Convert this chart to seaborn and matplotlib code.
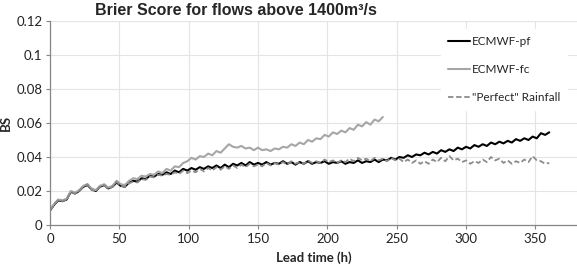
import numpy as np
import pandas as pd
import matplotlib
matplotlib.use("Agg")
import matplotlib.pyplot as plt
import seaborn as sns

# Brier score values, every 3 h of lead time
pf_bs = [
    .0085, .0120, .0145, .0140, .0150, .0195, .0185, .0200, .0225, .0235,
    .0210, .0200, .0225, .0235, .0215, .0225, .0250, .0230, .0225, .0250,
    .0260, .0255, .0275, .0270, .0290, .0285, .0300, .0295, .0310, .0300,
    .0320, .0310, .0330, .0320, .0335, .0325, .0340, .0330, .0345, .0335,
    .0350, .0335, .0355, .0340, .0360, .0350, .0365, .0350, .0370, .0355,
    .0365, .0355, .0370, .0355, .0365, .0360, .0375, .0360, .0370, .0355,
    .0370, .0360, .0375, .0360, .0370, .0365, .0375, .0360, .0370, .0365,
    .0375, .0360, .0370, .0365, .0380, .0365, .0375, .0370, .0385, .0370,
    .0385, .0380, .0395, .0385, .0400, .0395, .0410, .0400, .0415, .0410,
    .0425, .0415, .0430, .0420, .0440, .0430, .0445, .0435, .0455, .0445,
    .0460, .0450, .0470, .0460, .0475, .0465, .0485, .0475, .0490, .0480,
    .0495, .0485, .0505, .0495, .0510, .0500, .0520, .0510, .0540, .0530,
    .0545,
]
fc_bs = [
    .0090, .0125, .0150, .0145, .0155, .0200, .0190, .0205, .0230, .0240,
    .0215, .0205, .0230, .0240, .0220, .0230, .0260, .0240, .0235, .0260,
    .0275, .0270, .0290, .0285, .0300, .0295, .0315, .0305, .0330, .0320,
    .0345, .0340, .0365, .0375, .0395, .0385, .0405, .0400, .0420, .0410,
    .0435, .0425, .0450, .0475, .0460, .0455, .0465, .0450, .0455, .0440,
    .0455, .0440, .0445, .0435, .0450, .0445, .0460, .0455, .0475, .0465,
    .0485, .0475, .0500, .0490, .0510, .0505, .0530, .0520, .0545, .0535,
    .0555, .0545, .0570, .0560, .0590, .0580, .0605, .0590, .0620, .0610,
    .0635,
]
perfect_bs = [
    .0085, .0120, .0150, .0140, .0150, .0195, .0185, .0200, .0225, .0240,
    .0205, .0200, .0225, .0235, .0210, .0225, .0255, .0230, .0225, .0245,
    .0255, .0250, .0270, .0265, .0285, .0280, .0295, .0290, .0300, .0295,
    .0310, .0300, .0320, .0305, .0320, .0310, .0330, .0315, .0335, .0320,
    .0340, .0325, .0345, .0330, .0350, .0335, .0355, .0340, .0360, .0345,
    .0355, .0345, .0365, .0350, .0365, .0355, .0370, .0355, .0375, .0360,
    .0370, .0360, .0380, .0365, .0375, .0365, .0385, .0370, .0380, .0365,
    .0380, .0370, .0390, .0375, .0395, .0380, .0390, .0375, .0395, .0380,
    .0390, .0375, .0395, .0380, .0390, .0370, .0385, .0365, .0380, .0360,
    .0375, .0360, .0385, .0370, .0395, .0375, .0405, .0380, .0390, .0370,
    .0380, .0360, .0375, .0365, .0385, .0370, .0400, .0380, .0390, .0365,
    .0380, .0360, .0375, .0365, .0385, .0370, .0405, .0380, .0375, .0360,
    .0365,
]
lead_pf = np.arange(0, 361, 3)
lead_fc = np.arange(0, 241, 3)
lead_perfect = np.arange(0, 361, 3)

sns.set_style("white")
plt.rcParams['font.family'] = ['Lato', 'DejaVu Sans']

fig = plt.figure(figsize=(5.77, 2.65), dpi=100)
ax = fig.add_axes([0.0867, 0.151, 0.9133, 0.7698])

sns.lineplot(x=lead_pf, y=pf_bs, ax=ax, color="black", lw=1.5, label="ECMWF-pf")
sns.lineplot(x=lead_fc, y=fc_bs, ax=ax, color="#a6a6a6", lw=1.5, label="ECMWF-fc")
sns.lineplot(x=lead_perfect, y=perfect_bs, ax=ax, color="#8c8c8c", lw=1.3,
             linestyle=(0, (3, 1.5)), label='"Perfect" Rainfall')

ax.set_xlim(0, 380)
ax.set_ylim(0, 0.12)
ax.set_xticks([0, 50, 100, 150, 200, 250, 300, 350])
ax.set_yticks([0, 0.02, 0.04, 0.06, 0.08, 0.1, 0.12])
ax.set_yticklabels(["0", "0.02", "0.04", "0.06", "0.08", "0.1", "0.12"])
ax.grid(True, color="#e4e4e4", lw=0.8)
ax.tick_params(axis="both", labelsize=9.5, colors="#868686", labelcolor="#222222",
               length=3, width=0.8, direction="out", left=True, bottom=True, pad=2.5)
for s in ["top", "right"]:
    ax.spines[s].set_visible(False)
for s in ["left", "bottom"]:
    ax.spines[s].set_color("#868686")
    ax.spines[s].set_linewidth(0.9)

ax.set_xlabel("Lead time (h)", fontsize=9.5, fontweight="bold", labelpad=5)
ax.yaxis.set_label_coords(-0.072, 0.47)
ax.set_ylabel("BS", fontsize=9.5, fontweight="bold")

fig.text(0.409, 0.962, "Brier Score for flows above 1400m³/s", ha="center", va="center",
         fontsize=11.5, fontweight="bold", family="Liberation Sans")

leg = ax.legend(loc="upper left", bbox_to_anchor=(0.73, 0.99), frameon=True,
                fontsize=8.5, handlelength=1.9, handletextpad=0.15, labelspacing=1.45,
                borderpad=0.6, fancybox=False)
leg.get_frame().set_facecolor("white")
leg.get_frame().set_edgecolor("white")
leg.get_frame().set_alpha(1)

fig.savefig("out.png", dpi=100)
